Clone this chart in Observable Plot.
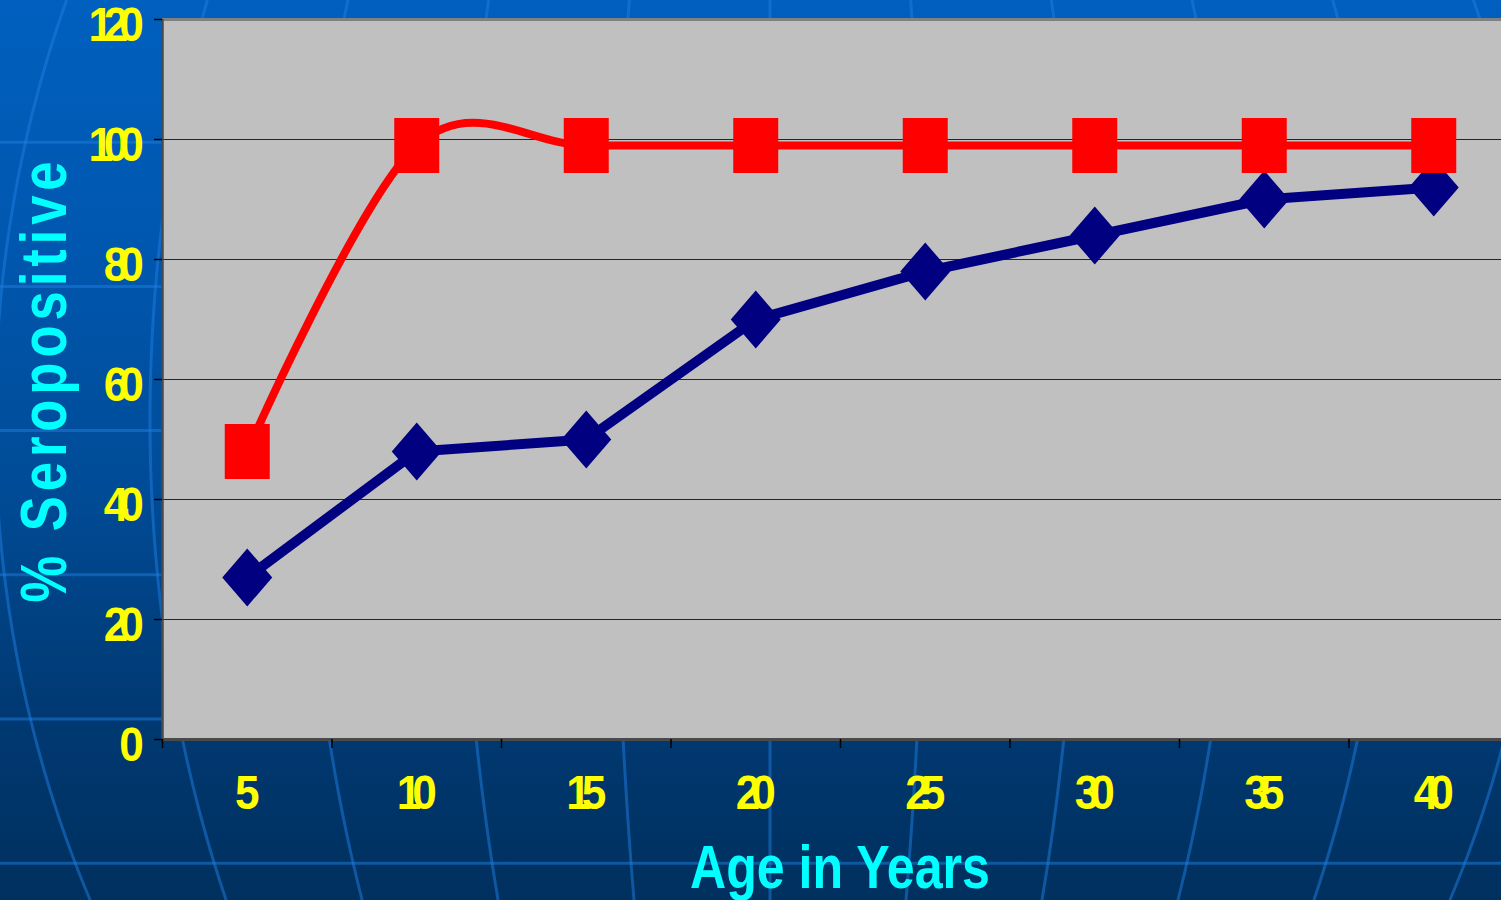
<!DOCTYPE html>
<html>
<head>
<meta charset="utf-8">
<script src="https://cdn.jsdelivr.net/npm/d3@7"></script>
<script src="https://cdn.jsdelivr.net/npm/@observablehq/plot@0.6"></script>
<style>
  html, body { margin: 0; padding: 0; width: 1501px; height: 900px; overflow: hidden; }
  body {
    position: relative;
    background: linear-gradient(to bottom, #0060bf 0%, #0056ad 30%, #004b96 55%, #003a74 78%, #00305e 100%);
  }
  #bg, #chart { position: absolute; left: 0; top: 0; }
</style>
</head>
<body>
<svg id="bg" width="1501" height="900"></svg>
<div id="chart"></div>
<script>
// Age groups (years) and percentage seropositive for the two series
const ages = [5, 10, 15, 20, 25, 30, 35, 40];
const seroRed = [48, 99, 99, 99, 99, 99, 99, 99];
const seroBlue = [27, 48, 50, 70, 78, 84, 90, 92];
const yTicks = [0, 20, 40, 60, 80, 100, 120];
const yGrid = [20, 40, 60, 80, 100];

const SANS = '"Liberation Sans", Arial, Helvetica, sans-serif';
const DIGIT_SPACING = -10; // tightly packed tick numerals
const DIGIT_SQUEEZE = 0.92; // horizontal scale of tick numerals
const TRAIL = DIGIT_SPACING * DIGIT_SQUEEZE;

// Decorative globe graticule behind the chart
(function drawBackdrop() {
  const bg = d3.select("#bg");
  const lineColor = "rgba(30, 125, 225, 0.5)";
  for (let y = -2; y <= 900; y += 144.2) {
    bg.append("line").attr("x1", 0).attr("x2", 1501).attr("y1", y).attr("y2", y)
      .attr("stroke", lineColor).attr("stroke-width", 3);
  }
  const ys = d3.range(0, 901, 10);
  const meridian = d3.line();
  for (let k = -5; k <= 5; k++) {
    const pts = ys.map(y => [770 + 155 * k * Math.sqrt(1 - ((y - 420) / 1000) ** 2), y]);
    bg.append("path").attr("d", meridian(pts)).attr("fill", "none")
      .attr("stroke", lineColor).attr("stroke-width", 3);
  }
})();

const rows = ages.map((a, i) => ({age: a, red: seroRed[i], blue: seroBlue[i]}));
// category boundaries: half a step either side of each age
const step = ages[1] - ages[0];
const edges = [ages[0] - step / 2, ...ages.map(a => a + step / 2)];

// marker shapes: tall square and tall diamond
const squareSym = {draw(ctx) { ctx.rect(-22.5, -27.5, 45, 55); }};
const diamondSym = {draw(ctx) {
  ctx.moveTo(0, -29); ctx.lineTo(25, 0); ctx.lineTo(0, 29); ctx.lineTo(-25, 0); ctx.closePath();
}};

const chart = Plot.plot({
  width: 1501,
  height: 900,
  marginTop: 19,
  marginBottom: 161,
  marginLeft: 162,
  marginRight: 0,
  style: {background: "transparent", overflow: "visible"},
  x: {type: "linear", domain: [edges[0], edges[edges.length - 1]], range: [162, 1518]},
  y: {domain: [0, 120]},
  marks: [
    Plot.frame({fill: "#c0c0c0", stroke: null}),
    Plot.ruleY(yGrid, {stroke: "#262626", strokeWidth: 1.2}),
    Plot.ruleY([120], {stroke: "#808080", strokeWidth: 3}),
    Plot.ruleY([0], {stroke: "#4a4a4a", strokeWidth: 3}),
    Plot.ruleX([edges[0]], {stroke: "#4a4a4a", strokeWidth: 2.5}),
    Plot.axisY(yTicks, {
      tickSize: 8, tickPadding: 20, stroke: "#000", strokeWidth: 1.5,
      fontSize: 48, fontWeight: "bold", fontFamily: SANS, fill: "#ffff00",
      label: null, className: "ytick"
    }),
    Plot.axisX(edges, {
      tickSize: 9, stroke: "#000", strokeWidth: 1.5, tickFormat: () => "", label: null
    }),
    Plot.axisX(ages, {
      tickSize: 0, tickPadding: 35, dx: TRAIL / 2,
      fontSize: 48, fontWeight: "bold", fontFamily: SANS, fill: "#ffff00",
      label: null, className: "xtick"
    }),
    // blue series
    Plot.line(rows, {x: "age", y: "blue", stroke: "#000080", strokeWidth: 10, strokeLinejoin: "round"}),
    Plot.dot(rows, {x: "age", y: "blue", symbol: diamondSym, fill: "#000080", stroke: null, r: 1}),
    // red series (smoothed)
    Plot.line(rows, {x: "age", y: "red", stroke: "#ff0000", strokeWidth: 8, curve: "cardinal", strokeLinejoin: "round"}),
    Plot.dot(rows, {x: "age", y: "red", symbol: squareSym, fill: "#ff0000", stroke: null, r: 1}),
    // axis titles
    Plot.text(["% Seropositive"], {
      frameAnchor: "left", textAnchor: "middle", dx: -117, rotate: -90,
      fontSize: 64, fontWeight: "bold", fontFamily: SANS, fill: "#00ffff", className: "ytitle"
    }),
    Plot.text(["Age in Years"], {
      frameAnchor: "bottom", textAnchor: "middle", lineAnchor: "bottom", dx: 8, dy: 148,
      fontSize: 61, fontWeight: "bold", fontFamily: SANS, fill: "#00ffff", className: "xtitle"
    })
  ]
});

document.getElementById("chart").appendChild(chart);

const svg = d3.select(chart);
const appendTransform = (el, t) => el.setAttribute("transform", (el.getAttribute("transform") || "") + " " + t);
svg.selectAll(".ytick text, .xtick text").style("letter-spacing", `${DIGIT_SPACING}px`);
// y numerals sit slightly below their tick marks
svg.selectAll(".ytick text").each(function () { appendTransform(this, `translate(0,6) scale(${DIGIT_SQUEEZE},1)`); });
svg.selectAll(".xtick text").each(function () { appendTransform(this, `scale(${DIGIT_SQUEEZE},1)`); });
svg.selectAll(".ytitle text").style("letter-spacing", "6px")
  .attr("textLength", 446).attr("lengthAdjust", "spacingAndGlyphs");
svg.selectAll(".xtitle text").attr("textLength", 300).attr("lengthAdjust", "spacingAndGlyphs");
</script>
</body>
</html>
